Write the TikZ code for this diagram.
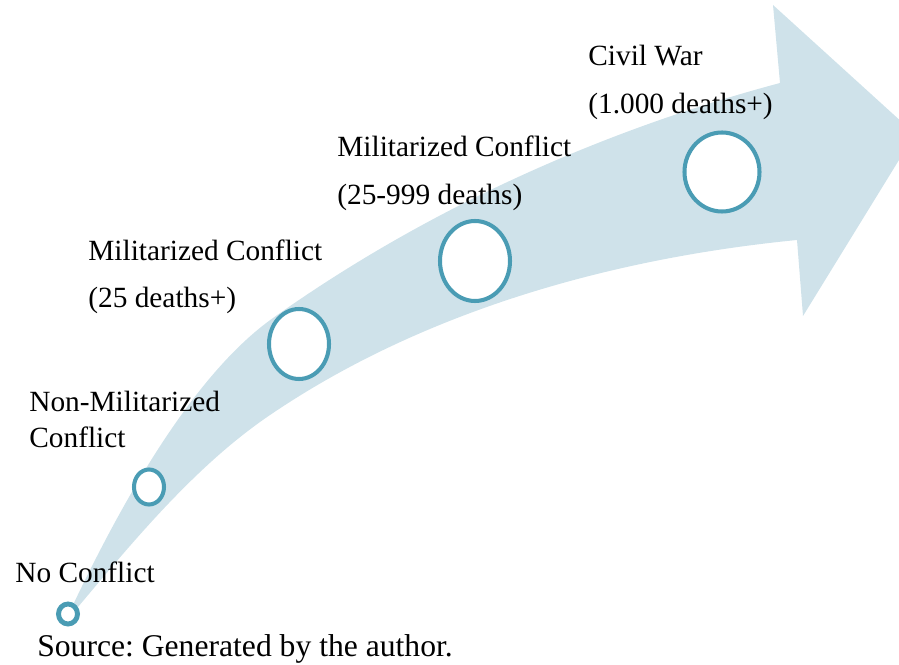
\documentclass[tikz,border=0pt]{standalone}
\usepackage{fontspec}
\setmainfont{Liberation Serif}
\newfontfamily\stagefont{Liberation Serif}
\usepackage{xcolor}
\usepackage{tikz}
\usetikzlibrary{calc}
\definecolor{arrowblue}{RGB}{207,226,234}
\definecolor{ringteal}{RGB}{74,156,180}
\frenchspacing

\begin{document}
\begin{tikzpicture}[x=0.02cm, y=-0.02cm,
  lbl/.style={anchor=base west, inner sep=0pt, font=\stagefont\fontsize{16.7}{20}\selectfont},
  ring/.style={draw=ringteal, line width=2.3pt, fill=white}]
\useasboundingbox (0,0) rectangle (899,665);
% the bent arrow
\coordinate (T1) at (72,607);
\coordinate (T2) at (78,607);
\coordinate (U) at (273,318);
\coordinate (L) at (273,413);
\coordinate (H1) at (780,83);
\coordinate (H2) at (773,5);
\coordinate (H3) at (915,134);
\coordinate (H4) at (803,316);
\coordinate (H5) at (797,240);
\fill[arrowblue] (T1) .. controls (119,508) and (191,376) .. (U)
  .. controls (425,210) and (600,131) .. (H1) -- (H2) -- (H3) -- (H4) -- (H5)
  .. controls (614,258) and (426,310) .. (L)
  .. controls (198,463) and (136,538) .. (T2) -- cycle;
% stages
\coordinate (S1) at (68,614);
\coordinate (S2) at (149,487);
\coordinate (S3) at (299,344);
\coordinate (S4) at (475,261);
\coordinate (S5) at (722,172);
\draw[ring, line width=2.8pt] (S1) ellipse [x radius=9.5, y radius=10];
\draw[ring] (S2) ellipse [x radius=15, y radius=17.5];
\draw[ring] (S3) ellipse [x radius=30, y radius=35];
\draw[ring] (S4) ellipse [x radius=35, y radius=40];
\draw[ring] (S5) ellipse [x radius=37.5, y radius=39.5];
% labels
\node[lbl] (none) at (15,582) {No Conflict};
\node[lbl] (nonmil) at (29,411) {Non-Militarized};
\node[lbl] (nonmilb) at ($(nonmil.base west)+(0,36)$) {Conflict};
\node[lbl] (mil) at (88,261) {Militarized Conflict};
\node[lbl] (milb) at ($(mil.base west)+(0,47)$) {(25 deaths+)};
\node[lbl] (milh) at (337,157) {Militarized Conflict};
\node[lbl] (milhb) at ($(milh.base west)+(0,48)$) {(25-999 deaths)};
\node[lbl] (civ) at (588,66) {Civil War};
\node[lbl] (civb) at ($(civ.base west)+(0,48)$) {(1.000 deaths+)};
\node[lbl, font=\stagefont\fontsize{18}{22}\selectfont] (src) at (37,656) {Source: Generated by the author.};
\end{tikzpicture}
\end{document}
